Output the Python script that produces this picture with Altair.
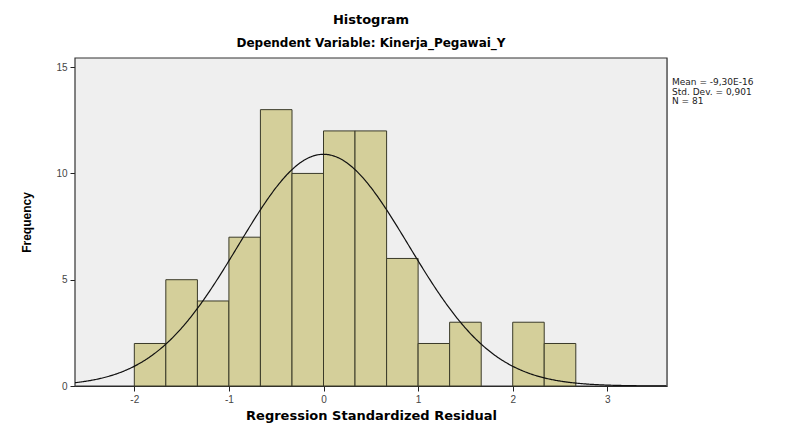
import altair as alt
import pandas as pd

bin_start = [-2.0, -1.667, -1.333, -1.0, -0.667, -0.333, 0.0, 0.333, 0.667, 1.0, 1.333, 1.667, 2.0, 2.333]
bin_end = [-1.667, -1.333, -1.0, -0.667, -0.333, 0.0, 0.333, 0.667, 1.0, 1.333, 1.667, 2.0, 2.333, 2.667]
counts = [2, 5, 4, 7, 13, 10, 12, 12, 6, 2, 3, 0, 3, 2]

mean_val = 0.0
std_dev = 0.901
n_obs = 81
curve_peak = 10.9  # height of the fitted normal curve

stats_text = "Mean = -9,30E-16\nStd. Dev. = 0,901\nN = 81"

W, H = 592, 328

bars_df = pd.DataFrame({"start": bin_start, "end": bin_end, "count": counts})
bars_df = bars_df[bars_df["count"] > 0]

x_scale = alt.Scale(domain=[-2.627, 3.631], nice=False, zero=False)
y_scale = alt.Scale(domain=[0, 15.43], nice=False)

x_axis = alt.Axis(values=[-2, -1, 0, 1, 2, 3], labelExpr="toString(datum.value)",
                  title="Regression Standardized Residual",
                  titleFont="DejaVu Sans", titleFontSize=13, titleFontWeight="bold",
                  titleColor="#000", titlePadding=5, labelFont="Liberation Sans",
                  labelFontSize=10, labelColor="#444", tickColor="#222", tickSize=5,
                  domainColor="#222", grid=False, labelPadding=3)
y_axis = alt.Axis(values=[0, 5, 10, 15], format="d", title="Frequency", titleFont="Liberation Sans",
                  titleFontSize=12, titleFontWeight="bold", titleColor="#000",
                  titlePadding=22, labelFont="Liberation Sans", labelFontSize=10,
                  labelColor="#444", tickColor="#222", tickSize=5, domainColor="#222",
                  grid=False, labelPadding=3)

bg = alt.Chart(pd.DataFrame({"a": [0]})).mark_rect(fill="#efefef", stroke="#333", strokeWidth=1.2).encode(
    x=alt.value(0), x2=alt.value(W), y=alt.value(0), y2=alt.value(H)
)

bars = alt.Chart(bars_df).mark_rect(color="#d4cf9a", stroke="#3a3a28", strokeWidth=1).encode(
    x=alt.X("start:Q", scale=x_scale, axis=x_axis),
    x2="end:Q",
    y=alt.Y("count:Q", scale=y_scale, axis=y_axis),
)

curve = alt.Chart(alt.sequence(-2.627, 3.632, 0.01, as_="x")).transform_calculate(
    y=f"{curve_peak} * exp(-0.5 * pow((datum.x - {mean_val}) / {std_dev}, 2))"
).mark_line(color="#111", strokeWidth=1.2, clip=True).encode(
    x=alt.X("x:Q", scale=x_scale),
    y=alt.Y("y:Q", scale=y_scale),
)

stats = alt.Chart(pd.DataFrame({"t": [stats_text]})).mark_text(
    align="left", baseline="top", font="DejaVu Sans", fontSize=9, color="#222",
    lineBreak="\n", lineHeight=9.5
).encode(
    x=alt.value(597),
    y=alt.value(20),
    text="t:N",
)

chart = alt.layer(bg, bars, curve, stats).properties(
    width=W, height=H,
    title=alt.TitleParams(text="Histogram", subtitle="Dependent Variable: Kinerja_Pegawai_Y",
                          font="DejaVu Sans", fontSize=13, fontWeight="bold", color="#000",
                          subtitleFont="DejaVu Sans", subtitleFontSize=12,
                          subtitleFontWeight="bold", subtitleColor="#000", subtitlePadding=11,
                          anchor="middle", offset=8),
    autosize=alt.AutoSizeParams(type="none"),
    padding={"left": 67, "top": 50, "right": 125, "bottom": 39},
).configure_view(stroke=None).configure(background="#ffffff")

chart.save("out.html", embed_options={"renderer": "svg", "actions": False})
